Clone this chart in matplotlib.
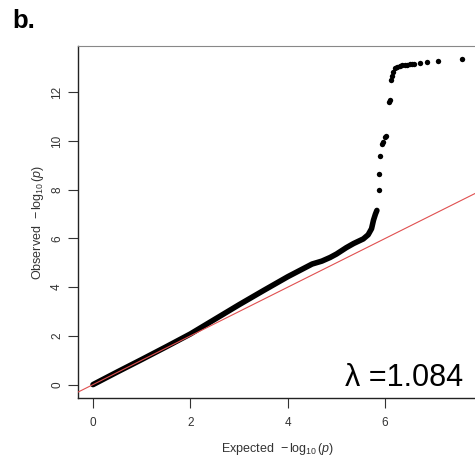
import matplotlib
matplotlib.use("Agg")
import matplotlib.pyplot as plt

plt.rcParams['font.family'] = ['Liberation Sans', 'DejaVu Sans']
plt.rcParams['mathtext.fontset'] = 'custom'
plt.rcParams['mathtext.rm'] = 'Liberation Sans'
plt.rcParams['mathtext.it'] = 'Liberation Sans:italic'

# dense part of the QQ curve (expected, observed)
exp_dense = [0.0, 0.5, 1.0, 1.5, 2.0, 2.5, 3.0, 3.5, 4.0, 4.5, 4.7, 4.87, 5.0, 5.2, 5.35,
             5.55, 5.65, 5.72, 5.76, 5.8, 5.83]
obs_dense = [0.0, 0.52, 1.03, 1.55, 2.08, 2.68, 3.28, 3.86, 4.43, 4.95, 5.07, 5.22, 5.36, 5.62, 5.79,
             5.98, 6.15, 6.4, 6.75, 7.0, 7.15]

# sparse tail points
exp_tail = [5.87, 5.88, 5.89, 5.94, 5.96, 6.0, 6.02, 6.07, 6.09, 6.11, 6.13, 6.16,
            6.2, 6.25, 6.3, 6.35, 6.4, 6.45, 6.5, 6.55, 6.6, 6.71, 6.86, 7.09, 7.57]
obs_tail = [8.0, 8.64, 9.4, 9.86, 9.95, 10.18, 10.2, 11.6, 11.7, 12.5, 12.65, 12.85,
            13.0, 13.05, 13.08, 13.1, 13.12, 13.13, 13.15, 13.17, 13.18, 13.22, 13.25,
            13.27, 13.35]

lam = 1.084

fig = plt.figure(figsize=(4.75, 4.62), dpi=100)
ax = fig.add_axes([78.4 / 475, 64 / 462, 399.3 / 475, 352 / 462])

ax.plot(exp_dense, obs_dense, color='black', lw=4.0, solid_capstyle='round', zorder=2)
ax.scatter(exp_tail, obs_tail, s=15, color='black', zorder=2, linewidths=0)
ax.axline((0, 0), slope=1, color='#e05050', lw=0.8, zorder=3)

ax.set_xlim(-0.30, 7.9)
ax.set_ylim(-0.55, 13.9)
ax.set_xticks([0, 2, 4, 6])
ax.set_yticks([0, 2, 4, 6, 8, 10, 12])
ax.tick_params(direction='out', length=7, width=0.8, color='#333333',
               labelsize=8.5, labelcolor='#333333')
ax.tick_params(axis='x', pad=7)
ax.tick_params(axis='y', pad=4)
for lbl in ax.get_yticklabels():
    lbl.set_rotation(90)
    lbl.set_va('center')

ax.spines['right'].set_visible(False)
ax.spines['top'].set_color('#888888')
for s in ['left', 'bottom']:
    ax.spines[s].set_color('#222222')
    ax.spines[s].set_linewidth(1.0)

ax.set_xlabel(r'Expected  $-\,\log_{10}(\mathit{p})$', fontsize=9, color='#333333', labelpad=8)
ax.set_ylabel(r'Observed  $-\,\log_{10}(\mathit{p})$', fontsize=9, color='#333333', labelpad=4)

ax.text(7.6, -0.04, 'λ =%.3f' % lam, ha='right', va='baseline', fontsize=22, color='black')

fig.text(12 / 475, 1 - 28 / 462, 'b.', fontsize=18.5, fontweight='bold', ha='left', va='baseline')

fig.savefig('out.png', dpi=100)
